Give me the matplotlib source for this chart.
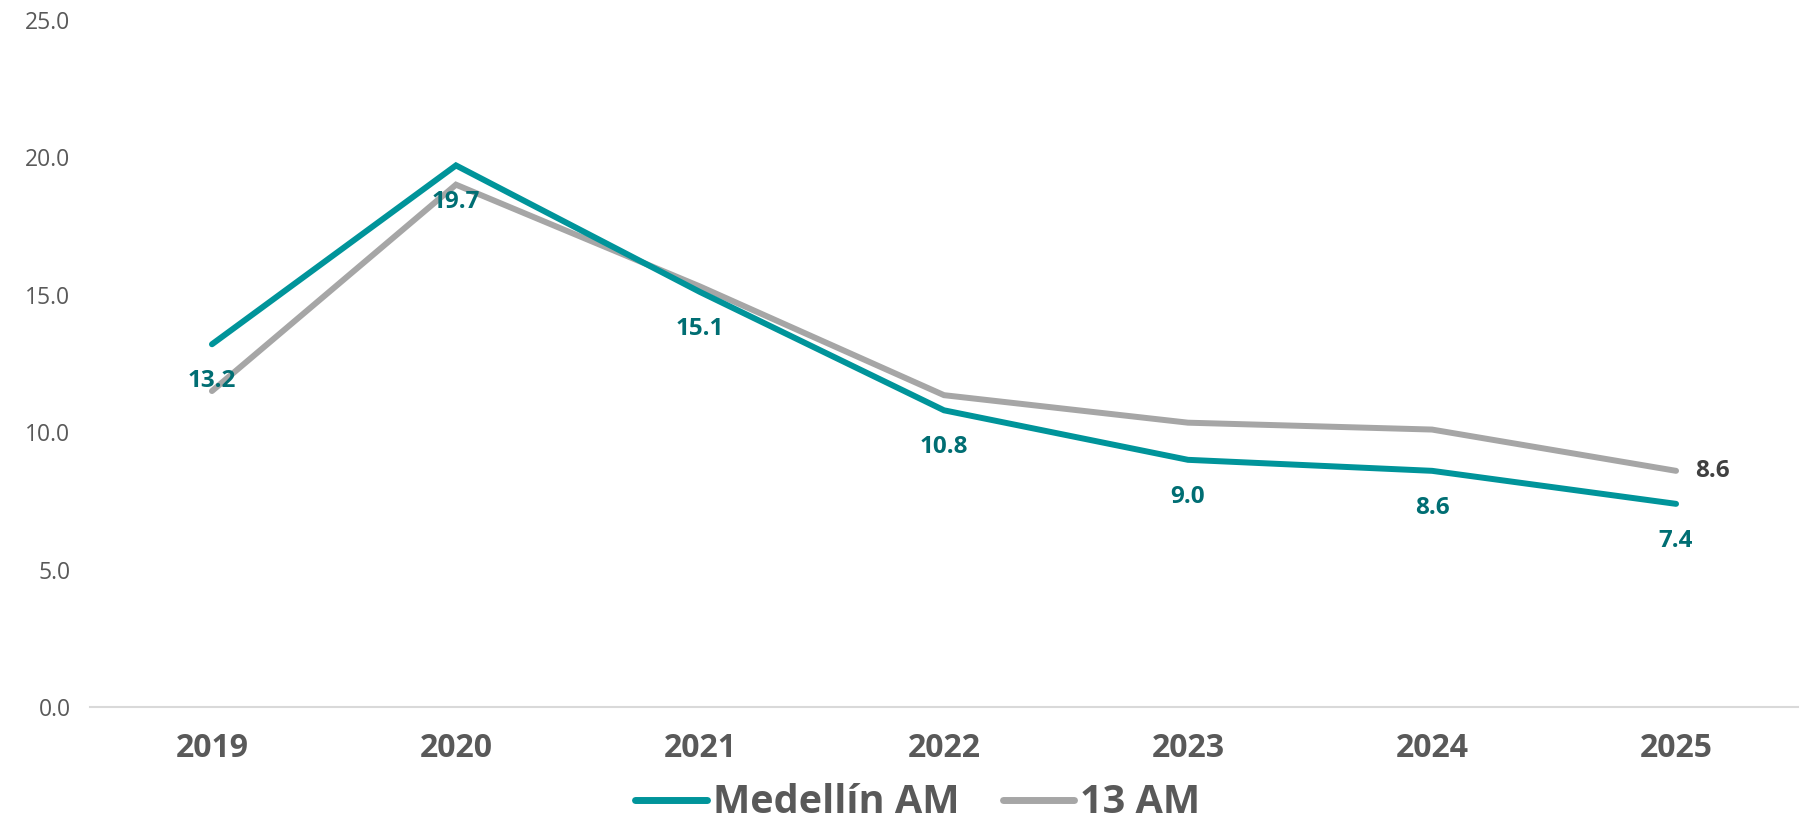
import matplotlib
matplotlib.use("Agg")
import matplotlib.pyplot as plt

years = ["2019", "2020", "2021", "2022", "2023", "2024", "2025"]
medellin = [13.2, 19.7, 15.1, 10.8, 9.0, 8.6, 7.4]
am13 = [11.5, 19.0, 15.3, 11.35, 10.35, 10.1, 8.6]
series_names = ["Medellín AM", "13 AM"]
yticks = [0, 5, 10, 15, 20, 25]

TEAL = "#00949A"
TEAL_DARK = "#006E73"
GRAY = "#A6A6A6"
TXT = "#595959"
FONT = "Open Sans"

fig = plt.figure(figsize=(18.10, 8.26), dpi=100)
ax = fig.add_axes([0.0497, 0.1435, 0.9437, 0.8328])

x = list(range(len(years)))
l1, = ax.plot(x, medellin, color=TEAL, lw=4.3, solid_capstyle="round", solid_joinstyle="miter", label=series_names[0], zorder=3)
l2, = ax.plot(x, am13, color=GRAY, lw=4.3, solid_capstyle="round", solid_joinstyle="miter", label=series_names[1], zorder=2)

for xi, v in zip(x, medellin):
    ax.annotate(f"{v:.1f}", (xi, v), xytext=(0, -26.5), textcoords="offset points",
                ha="center", va="center", fontsize=17.5, fontweight="bold",
                color=TEAL_DARK, family=FONT, zorder=4)
ax.annotate(f"{am13[-1]:.1f}", (x[-1], am13[-1]), xytext=(14, 0), textcoords="offset points",
            ha="left", va="center", fontsize=17.5, fontweight="bold",
            color="#404040", family=FONT, zorder=4)

ax.set_xlim(-0.5, len(years) - 0.5)
ax.set_ylim(0, 25)
ax.set_yticks(yticks)
ax.set_yticklabels([f"{t:.1f}" for t in yticks], fontsize=16.5, color=TXT, family=FONT)
ax.set_xticks(x)
ax.set_xticklabels(years, fontsize=23, fontweight="bold", color=TXT, family=FONT)
ax.tick_params(axis="both", length=0)
ax.tick_params(axis="x", pad=18)
ax.tick_params(axis="y", pad=14)

for s in ["top", "right", "left"]:
    ax.spines[s].set_visible(False)
ax.spines["bottom"].set_color("#D9D9D9")
ax.spines["bottom"].set_linewidth(1.5)

leg = fig.legend(handles=[l1, l2], loc="center", bbox_to_anchor=(0.507, 0.028),
                 ncol=2, frameon=False, handlelength=1.8, handletextpad=0.15,
                 columnspacing=1.1, borderpad=0.1,
                 prop={"family": FONT, "weight": "bold", "size": 28.5})
for t in leg.get_texts():
    t.set_color(TXT)
for h in leg.get_lines():
    h.set_linewidth(5)

fig.savefig("out.png", dpi=100)
